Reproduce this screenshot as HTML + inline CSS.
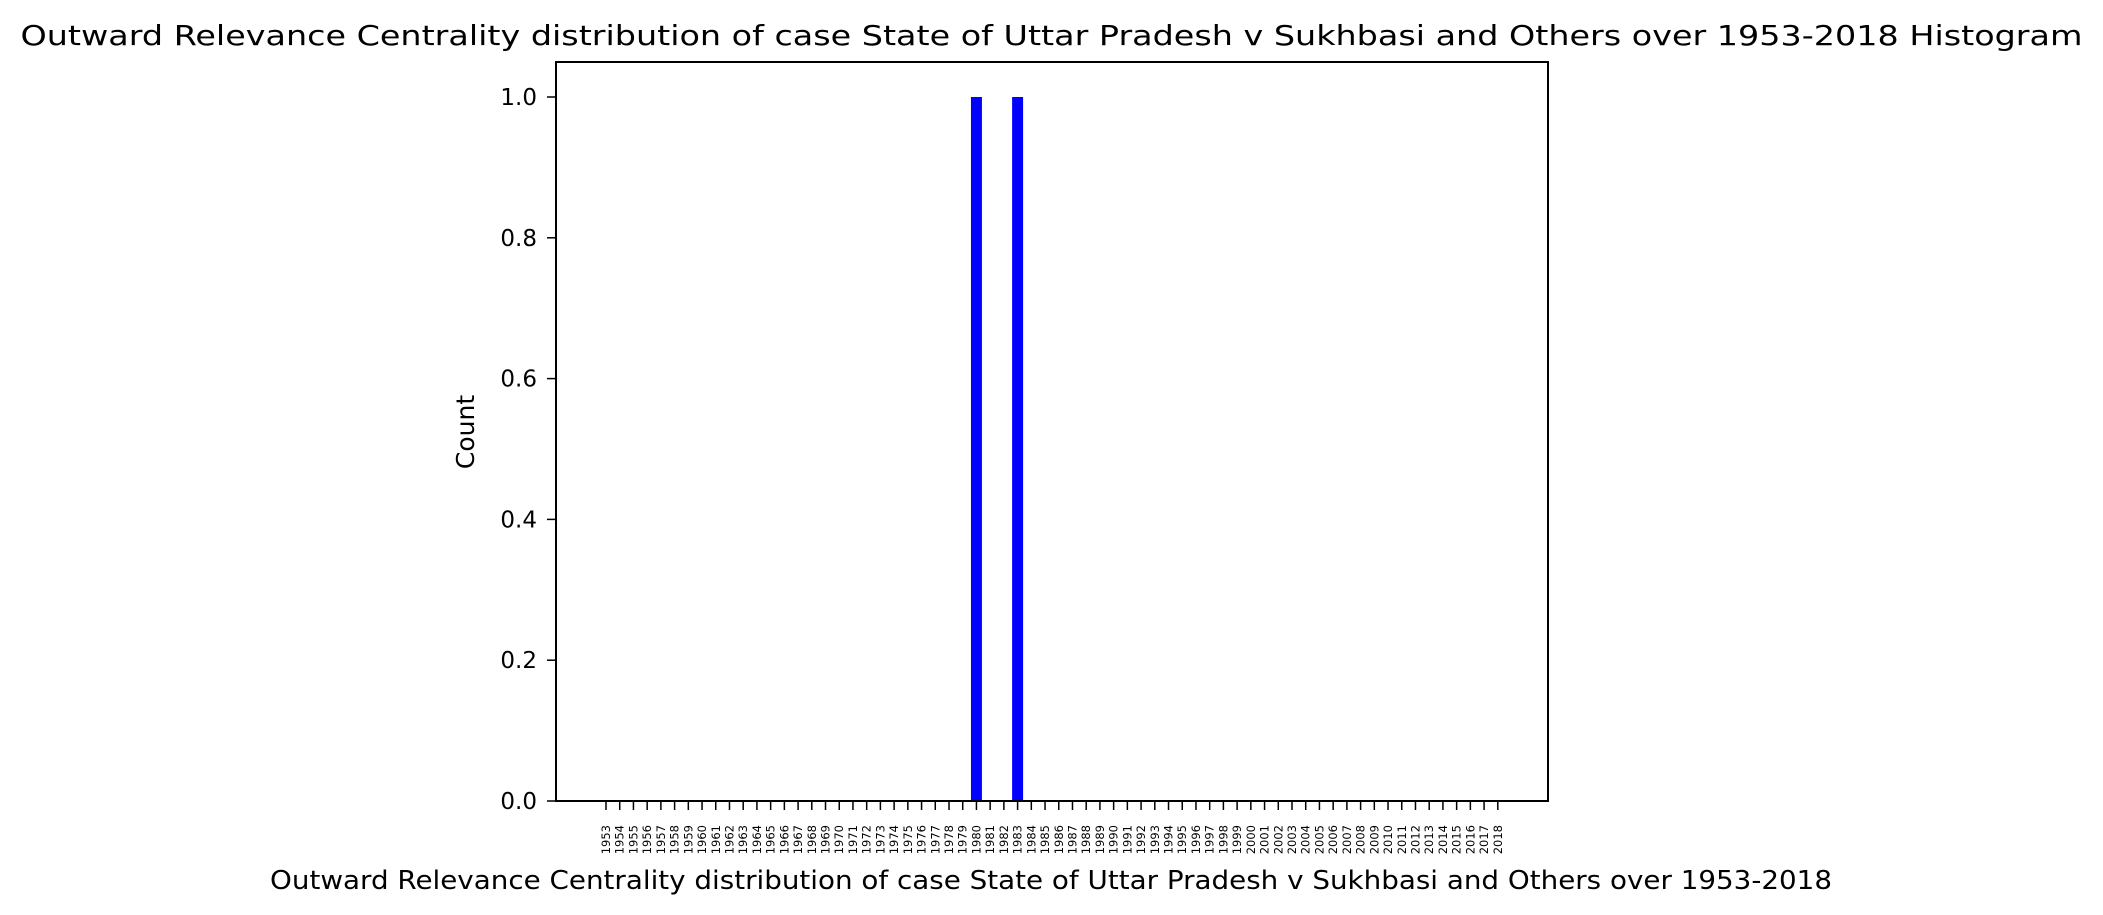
<!DOCTYPE html>
<html><head><meta charset="utf-8"><style>html,body{margin:0;padding:0;background:#fff;}svg{display:block;font-family:"DejaVu Sans","Liberation Sans",sans-serif;}</style></head>
<body>
<svg id="chart" width="2103" height="915" viewBox="0 0 2103 915">
<text x="1051.5" y="45" font-size="28" text-anchor="middle" textLength="2062" lengthAdjust="spacingAndGlyphs">Outward Relevance Centrality distribution of case State of Uttar Pradesh v Sukhbasi and Others over 1953-2018 Histogram</text>
<text x="1051" y="889" font-size="26" text-anchor="middle" textLength="1562" lengthAdjust="spacingAndGlyphs">Outward Relevance Centrality distribution of case State of Uttar Pradesh v Sukhbasi and Others over 1953-2018</text>
<text x="0" y="0" font-size="25" text-anchor="middle" transform="translate(474,432) rotate(-90)">Count</text>
<g id="marks"></g>
<rect x="556" y="62" width="992" height="739" fill="none" stroke="#000" stroke-width="2"/>
</svg>
<script>
const years = [];
for (let y = 1953; y <= 2018; y++) years.push(y);
const counts = years.map(y => (y === 1980 || y === 1983) ? 1 : 0);
const yTicks = [0.0, 0.2, 0.4, 0.6, 0.8, 1.0];
const yTickLabels = ["0.0", "0.2", "0.4", "0.6", "0.8", "1.0"];

const NS = "http://www.w3.org/2000/svg";
const g = document.getElementById('marks');
const x0 = 606, step = 13.72;
function xScale(i) { return x0 + i * step; }
function yScale(v) { return 801 - v * 704; }
function mk(tag, attrs) { const e = document.createElementNS(NS, tag); for (const k in attrs) e.setAttribute(k, attrs[k]); g.appendChild(e); return e; }

counts.forEach((c, i) => {
  if (c > 0) {
    const bw = step * 0.8;
    const r = mk('rect', {x: xScale(i) - bw / 2, y: yScale(c), width: bw, height: yScale(0) - yScale(c), fill: '#0000ff'});
    
    
  }
});
years.forEach((yr, i) => {
  const x = xScale(i);
  const t = mk('line', {x1: x, x2: x, y1: 801, y2: 810, stroke: '#000', 'stroke-width': 1.5});
  
  
  const l = mk('text', {x: 0, y: 0, 'font-size': 11.5, 'text-anchor': 'end', transform: 'translate(' + (x + 4) + ',825) rotate(-90)'});
  l.textContent = yr;
  
  
});
yTicks.forEach((v, i) => {
  const y = yScale(v);
  const t = mk('line', {x1: 547, x2: 556, y1: y, y2: y, stroke: '#000', 'stroke-width': 1.5});
  
  
  const l = mk('text', {x: 537, y: y + 8, 'font-size': 23, 'text-anchor': 'end'});
  l.textContent = yTickLabels[i];
  
  
});
</script>
</body></html>
